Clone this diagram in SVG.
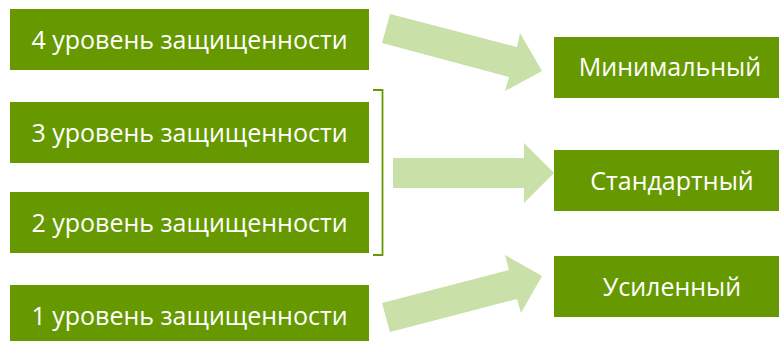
<svg xmlns="http://www.w3.org/2000/svg" width="779" height="341" viewBox="0 0 779 341">
<style>
.box{fill:#669900}
.lbl{fill:#ffffff;font-family:"Open Sans","DejaVu Sans",sans-serif;font-size:25px;text-anchor:middle}
.arrow{fill:#c9e0a9}
.bracket{fill:none;stroke:#669900;stroke-width:1.8}
</style>
<rect width="779" height="341" fill="#ffffff"/>
<g id="level4"><rect class="box" x="10" y="9" width="359" height="61"/><text class="lbl" x="189.5" y="49">4 уровень защищенности</text></g>
<g id="level3"><rect class="box" x="10" y="102" width="359" height="61"/><text class="lbl" x="189.5" y="142">3 уровень защищенности</text></g>
<g id="level2"><rect class="box" x="10" y="192" width="359" height="61"/><text class="lbl" x="189.5" y="232">2 уровень защищенности</text></g>
<g id="level1"><rect class="box" x="10" y="285" width="359" height="61"/><text class="lbl" x="189.5" y="325">1 уровень защищенности</text></g>
<g id="minimal"><rect class="box" x="554" y="37" width="235" height="61"/><text class="lbl" x="670" y="76">Минимальный</text></g>
<g id="standard"><rect class="box" x="554" y="150" width="235" height="61"/><text class="lbl" x="672" y="190">Стандартный</text></g>
<g id="enhanced"><rect class="box" x="554" y="256" width="235" height="61"/><text class="lbl" x="672" y="296">Усиленный</text></g>
<g id="connectors">
<polygon class="arrow" points="390,14 517,47 520,33 542,71 505,91 509,77 382,43"/>
<polygon class="arrow" points="393,158 524,158 524,143 554,173 524,203 524,188 393,188"/>
<polygon class="arrow" points="382,303 509,270 505,255 542,276 521,313 517,299 390,332"/>
<path class="bracket" d="M373,90 H382.5 V255 H373"/>
</g>
</svg>
